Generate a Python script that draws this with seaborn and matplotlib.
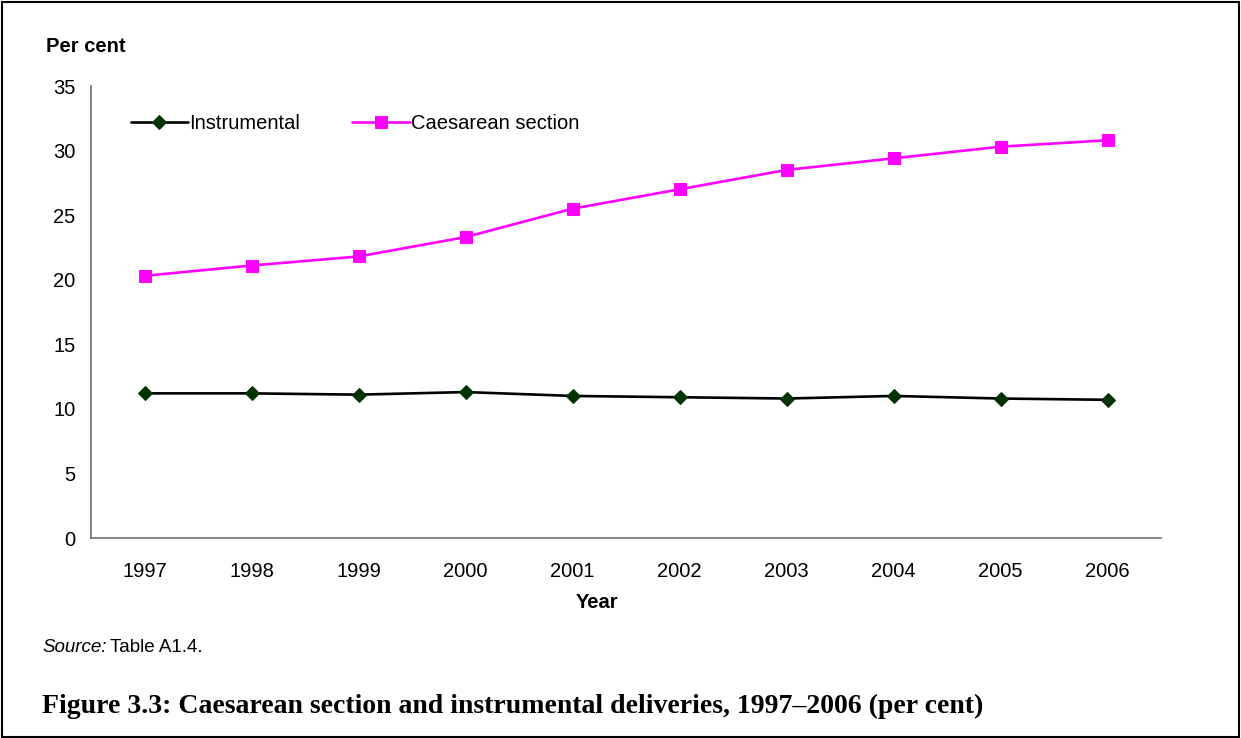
import pandas as pd
import matplotlib.pyplot as plt
import seaborn as sns
from matplotlib.patches import Rectangle
from matplotlib.ticker import FixedLocator

years = [1997, 1998, 1999, 2000, 2001, 2002, 2003, 2004, 2005, 2006]
instrumental = [11.2, 11.2, 11.1, 11.3, 11.0, 10.9, 10.8, 11.0, 10.8, 10.7]
caesarean = [20.3, 21.1, 21.8, 23.3, 25.5, 27.0, 28.5, 29.4, 30.3, 30.8]
series_names = ["Instrumental", "Caesarean section"]

df = pd.DataFrame({
    "year": years * 2,
    "value": instrumental + caesarean,
    "series": [series_names[0]] * len(years) + [series_names[1]] * len(years),
})

sns.set_style("white")
plt.rcParams["font.family"] = ["Liberation Sans", "DejaVu Sans"]
plt.rcParams["text.color"] = "black"
plt.rcParams["xtick.color"] = "black"
plt.rcParams["ytick.color"] = "black"

W, H = 1241, 738
fig = plt.figure(figsize=(W / 100, H / 100), dpi=100)
ax = fig.add_axes([91 / W, 1 - 538 / H, (1161 - 91) / W, (538 - 86) / H])

# lines + markers, one style per series
sns.lineplot(
    data=df, x="year", y="value", hue="series", style="series",
    palette={series_names[0]: "black", series_names[1]: "#ff00ff"},
    markers={series_names[0]: "D", series_names[1]: "s"},
    dashes=False, linewidth=1.9, markersize=8, ax=ax,
)
# diamonds are dark green inside the black line
for line in ax.lines:
    if line.get_marker() == "D":
        line.set_markerfacecolor("#003300")
        line.set_markeredgecolor("#003300")
        line.set_markersize(7.5)
    else:
        line.set_markeredgecolor("#ff00ff")

ax.set_ylim(0, 35)
ax.set_yticks(range(0, 36, 5))
ax.set_xlim(years[0] - 0.5, years[-1] + 0.5)
ax.set_xticks(years)
ax.xaxis.set_minor_locator(FixedLocator([y - 0.5 for y in years] + [years[-1] + 0.5]))

ax.tick_params(axis="x", which="major", length=0, pad=17, labelsize=14.5, labelcolor="black")
ax.tick_params(axis="x", which="minor", length=5, width=1.1, color="#606060", direction="out")
ax.tick_params(axis="y", length=5, width=1.1, color="#606060", direction="out", pad=6,
               labelsize=14.5, labelcolor="black")

for side in ["top", "right"]:
    ax.spines[side].set_visible(False)
for side in ["left", "bottom"]:
    ax.spines[side].set_color("#707070")
    ax.spines[side].set_linewidth(1.2)

ax.set_xlabel("")
ax.set_ylabel("")
ax.grid(False)

leg = ax.legend(
    loc="upper left", bbox_to_anchor=(0.02, 0.978), ncol=2, frameon=False,
    fontsize=14.5, handlelength=2.85, handletextpad=0.05, columnspacing=2.6,
)

fig.text(46 / W, 1 - 46 / H, "Per cent", fontsize=14.5, fontweight="bold", va="center")
fig.text(597 / W, 1 - 602 / H, "Year", fontsize=14.5, fontweight="bold", va="center", ha="center")
src = fig.text(42 / W, 1 - 648 / H, "Source:", fontsize=13.5, style="italic", va="center")
fig.canvas.draw()
src_box = src.get_window_extent()
fig.text(src_box.x1 / W + 4 / W, 1 - 648 / H, "Table A1.4.", fontsize=13.5, va="center")
fig.text(42 / W, 1 - 706 / H,
         "Figure 3.3: Caesarean section and instrumental deliveries, 1997\u20132006 (per cent)",
         fontsize=20, fontweight="bold", family=["Liberation Serif", "DejaVu Serif"], va="center")

fig.patches.append(Rectangle((0.002, 0.002), 0.996, 0.995, transform=fig.transFigure,
                             fill=False, edgecolor="black", linewidth=1.5))

fig.savefig("out.png", dpi=100)
